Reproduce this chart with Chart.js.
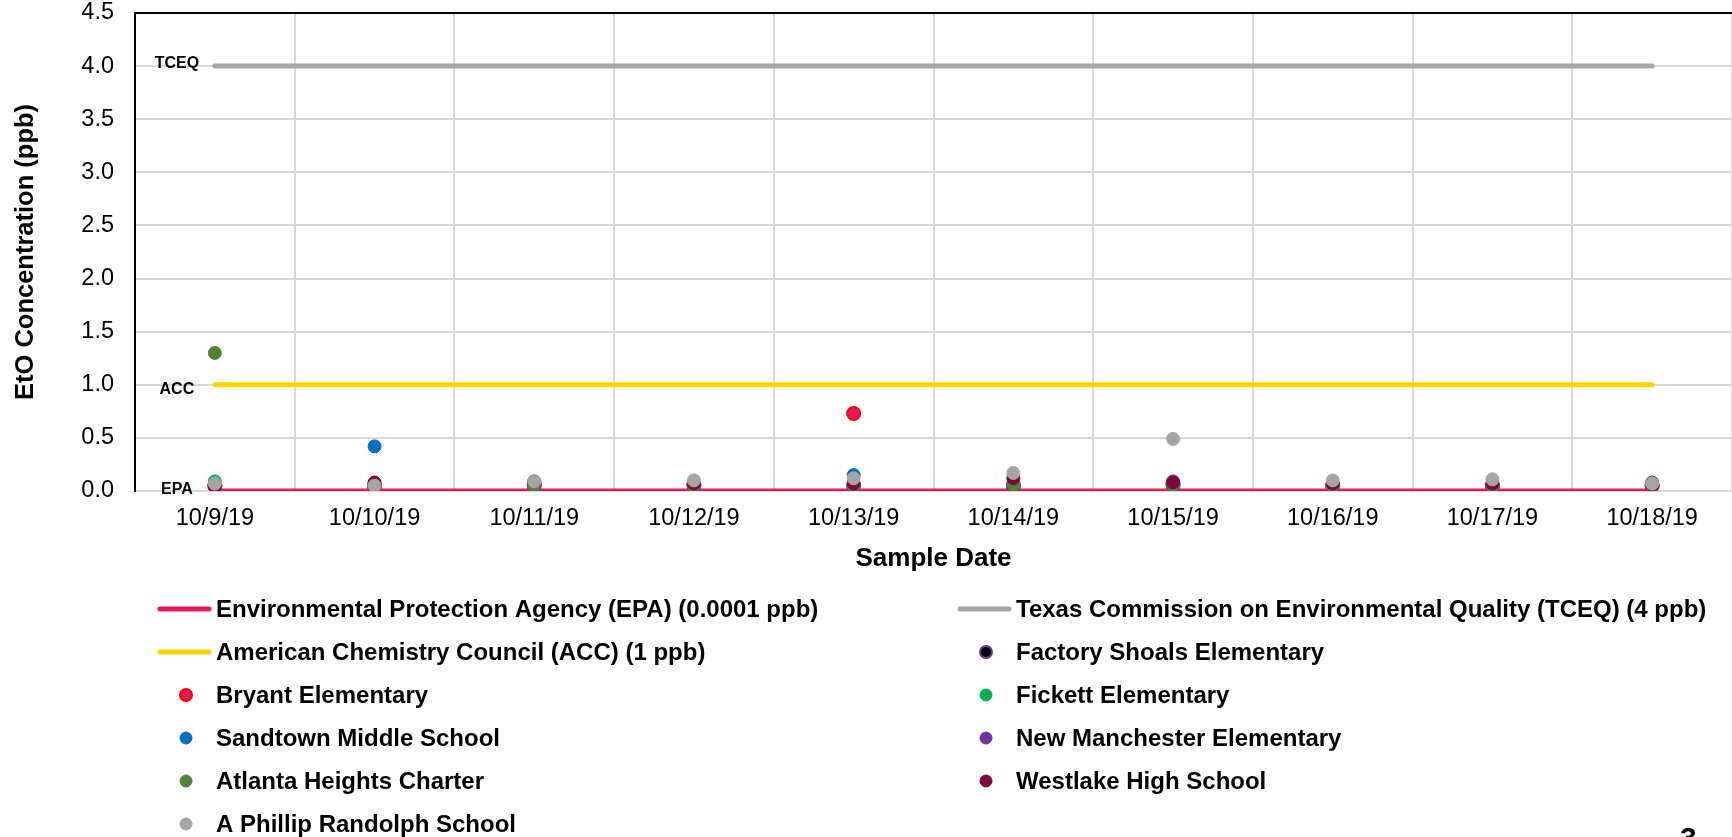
<!DOCTYPE html>
<html>
<head>
<meta charset="utf-8">
<title>EtO Concentration</title>
<script src="https://cdn.jsdelivr.net/npm/chart.js@4.4.1/dist/chart.umd.min.js"></script>
<style>
  html, body { margin: 0; padding: 0; background: #fff; overflow: hidden; }
  #wrap { position: relative; width: 1732px; height: 837px; }
  #pageNo { position: absolute; left: 1680px; top: 823px; font: bold 30px Arial, 'Liberation Sans', sans-serif; line-height: 1; color: #000; }
</style>
</head>
<body>
<div id="wrap">
  <canvas id="chart" width="1732" height="837"></canvas>
  <div id="pageNo">3</div>
</div>
<script>
// ===== Data =====
const dates = ['10/9/19', '10/10/19', '10/11/19', '10/12/19', '10/13/19', '10/14/19', '10/15/19', '10/16/19', '10/17/19', '10/18/19'];

// reference limits (ppb)
const epaLimit = [0.0001, 0.0001, 0.0001, 0.0001, 0.0001, 0.0001, 0.0001, 0.0001, 0.0001, 0.0001];
const tceqLimit = [4, 4, 4, 4, 4, 4, 4, 4, 4, 4];
const accLimit = [1, 1, 1, 1, 1, 1, 1, 1, 1, 1];

// school samples (ppb)
const factoryShoals = [0.05, 0.05, 0.05, 0.05, 0.05, 0.05, 0.07, 0.05, 0.05, 0.05];
const bryant = [0.05, 0.05, 0.06, 0.06, 0.73, 0.05, 0.05, 0.05, 0.05, 0.05];
const fickett = [0.09, 0.05, 0.07, 0.05, 0.05, 0.06, 0.05, 0.05, 0.05, 0.05];
const sandtown = [0.05, 0.42, 0.06, 0.05, 0.15, 0.05, 0.05, 0.05, 0.05, 0.05];
const newManchester = [0.05, 0.05, 0.05, 0.05, 0.05, 0.07, 0.09, 0.06, 0.05, 0.08];
const atlantaHeights = [1.3, 0.05, 0.05, 0.05, 0.05, 0.06, 0.06, 0.05, 0.05, 0.05];
const westlake = [0.05, 0.08, 0.09, 0.07, 0.07, 0.12, 0.08, 0.07, 0.07, 0.06];
const randolph = [0.07, 0.05, 0.09, 0.10, 0.12, 0.17, 0.49, 0.10, 0.11, 0.07];

const yTicks = [0, 0.5, 1, 1.5, 2, 2.5, 3, 3.5, 4, 4.5];

const FONT = "Arial, 'Liberation Sans', sans-serif";
const GRID = '#D9D9D9';

function limitLine(label, tag, tagDy, data, color) {
  return {
    label, tag, tagDy, data,
    borderColor: color,
    backgroundColor: color,
    borderWidth: 5,
    borderCapStyle: 'round',
    pointRadius: 0,
    pointHoverRadius: 0,
    fill: false,
  };
}

function school(label, data, fill, border) {
  return {
    label, data,
    showLine: false,
    backgroundColor: fill,
    borderColor: border || fill,
    borderWidth: border ? 2 : 1,
    pointRadius: 6.5,
    pointHoverRadius: 6.5,
  };
}

const datasets = [
  limitLine('Environmental Protection Agency (EPA) (0.0001 ppb)', 'EPA', -1, epaLimit, '#E8185D'),
  limitLine('Texas Commission on Environmental Quality (TCEQ) (4 ppb)', 'TCEQ', -3, tceqLimit, '#A6A6A6'),
  limitLine('American Chemistry Council (ACC) (1 ppb)', 'ACC', 5, accLimit, '#FFD400'),
  school('Factory Shoals Elementary', factoryShoals, '#000000', '#7030A0'),
  school('Bryant Elementary', bryant, '#E8185D', '#FF0000'),
  school('Fickett Elementary', fickett, '#00B050'),
  school('Sandtown Middle School', sandtown, '#0070C0'),
  school('New Manchester Elementary', newManchester, '#7030A0'),
  school('Atlanta Heights Charter', atlantaHeights, '#548235'),
  school('Westlake High School', westlake, '#80083C'),
  school('A Phillip Randolph School', randolph, '#A5A5A5'),
];
// later entries paint on top
datasets.forEach((d, i) => { d.order = datasets.length - i; });

// short tags to the left of the first point of each limit line
const lineTags = {
  id: 'lineTags',
  afterDatasetsDraw(chart) {
    const ctx = chart.ctx;
    ctx.save();
    ctx.font = 'bold 16px ' + FONT;
    ctx.fillStyle = '#000';
    ctx.textAlign = 'center';
    ctx.textBaseline = 'middle';
    chart.data.datasets.forEach((ds, i) => {
      if (!ds.tag) return;
      const pt = chart.getDatasetMeta(i).data[0];
      ctx.fillText(ds.tag, pt.x - 38, pt.y + ds.tagDy);
    });
    ctx.restore();
  }
};

// two column legend under the axis
const columnLegend = {
  id: 'columnLegend',
  afterDraw(chart) {
    const ctx = chart.ctx;
    ctx.save();
    ctx.font = 'bold 24px ' + FONT;
    ctx.textBaseline = 'middle';
    chart.data.datasets.forEach((ds, i) => {
      const x0 = i % 2 === 0 ? 158 : 958;
      const y = 609 + Math.floor(i / 2) * 43;
      if (ds.showLine === false) {
        ctx.beginPath();
        ctx.arc(x0 + 28, y, 6, 0, Math.PI * 2);
        ctx.fillStyle = ds.backgroundColor;
        ctx.fill();
        ctx.lineWidth = ds.borderWidth;
        ctx.strokeStyle = ds.borderColor;
        ctx.stroke();
      } else {
        ctx.beginPath();
        ctx.moveTo(x0 + 2, y);
        ctx.lineTo(x0 + 51, y);
        ctx.lineWidth = 5;
        ctx.lineCap = 'round';
        ctx.strokeStyle = ds.borderColor;
        ctx.stroke();
      }
      ctx.fillStyle = '#000';
      ctx.fillText(ds.label, x0 + 58, y + 1);
    });
    ctx.restore();
  }
};

new Chart(document.getElementById('chart'), {
  type: 'line',
  data: { labels: dates, datasets },
  plugins: [lineTags, columnLegend],
  options: {
    responsive: false,
    animation: false,
    events: [],
    layout: { autoPadding: false, padding: { left: 0, top: 13, right: 0, bottom: 262 } },
    plugins: {
      legend: { display: false },
      tooltip: { enabled: false },
    },
    scales: {
      x: {
        offset: true,
        afterFit: (s) => { s.height = 84; s.paddingLeft = 0; s.paddingRight = 0; },
        grid: {
          offset: true,
          drawTicks: false,
          lineWidth: 2,
          color: (c) => c.index === 0 ? 'rgba(0,0,0,0)' : GRID,
        },
        border: { display: false },
        ticks: {
          padding: 16,
          maxRotation: 0,
          autoSkip: false,
          color: '#000',
          font: { family: FONT, size: 23.5, lineHeight: 1 },
        },
        title: {
          display: true,
          text: 'Sample Date',
          color: '#000',
          font: { family: FONT, size: 26, weight: 'bold' },
          padding: { top: 4, bottom: 1 },
        },
      },
      y: {
        min: 0,
        max: 4.5,
        afterFit: (s) => { s.width = 135; s.paddingTop = 0; s.paddingBottom = 0; },
        afterBuildTicks: (s) => { s.ticks = yTicks.map(v => ({ value: v })); },
        grid: {
          drawTicks: false,
          lineWidth: 2,
          color: (c) => c.tick && c.tick.value === 4.5 ? '#000' : GRID,
        },
        border: { display: true, color: '#000', width: 2 },
        ticks: {
          padding: 21,
          color: '#000',
          font: { family: FONT, size: 23.5, lineHeight: 1 },
          callback: (v) => Number(v).toFixed(1),
        },
        title: {
          display: true,
          text: 'EtO Concentration (ppb)',
          color: '#000',
          font: { family: FONT, size: 25.5, weight: 'bold' },
          padding: { top: 11, bottom: 0 },
        },
      },
    },
  },
});
</script>
</body>
</html>
